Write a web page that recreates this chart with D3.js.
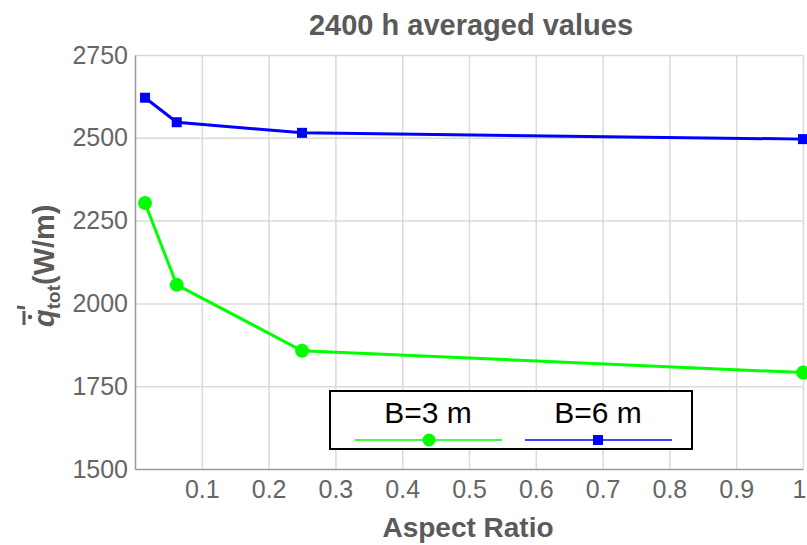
<!DOCTYPE html>
<html>
<head>
<meta charset="utf-8">
<script src="https://cdn.jsdelivr.net/npm/d3@7"></script>
<style>
  body { margin: 0; background: #fff; }
  svg { display: block; font-family: "Liberation Sans", Arial, sans-serif; }
</style>
</head>
<body>
<svg id="chart" width="807" height="545"></svg>
<script>
// ---------------- data ----------------
const aspectRatio = [0.015, 0.0625, 0.25, 1];
const qB3 = [2303, 2056, 1857, 1791];
const qB6 = [2621, 2547, 2515, 2496];
const seriesNames = ["B=3 m", "B=6 m"];
const xTicks = [0.1, 0.2, 0.3, 0.4, 0.5, 0.6, 0.7, 0.8, 0.9, 1];
const yTicks = [1500, 1750, 2000, 2250, 2500, 2750];

// ---------------- layout ----------------
const plot = { left: 135, right: 803, top: 55, bottom: 469 };
const grey = "#666666";

const svg = d3.select("#chart");

const x = d3.scaleLinear().domain([0, 1]).range([plot.left, plot.right]);
const y = d3.scaleLinear().domain([1500, 2750]).range([plot.bottom, plot.top]);

// grid lines
svg.append("g")
    .attr("transform", "translate(0," + plot.bottom + ")")
    .call(d3.axisBottom(x).tickValues(xTicks).tickSize(-(plot.bottom - plot.top)).tickFormat(""))
    .call(g => g.select(".domain").remove())
    .call(g => g.selectAll("line").attr("stroke", "#dadada").attr("stroke-width", 1.5));

svg.append("g")
    .attr("transform", "translate(" + plot.left + ",0)")
    .call(d3.axisLeft(y).tickValues(yTicks.slice(1)).tickSize(-(plot.right - plot.left)).tickFormat(""))
    .call(g => g.select(".domain").remove())
    .call(g => g.selectAll("line").attr("stroke", "#dadada").attr("stroke-width", 1.5));

// axes with labels
const xAxis = svg.append("g")
    .attr("transform", "translate(0," + plot.bottom + ")")
    .call(d3.axisBottom(x).tickValues(xTicks).tickSize(0).tickPadding(11)
        .tickFormat(d => d === 1 ? "1" : d3.format(".1f")(d)));
xAxis.select(".domain").attr("stroke", "#999").attr("stroke-width", 1.5);
xAxis.selectAll("text").attr("fill", grey).style("font-size", "25px");
// last label sits at the window edge, keep it inside
xAxis.selectAll(".tick").filter(d => d === 1).select("text")
    .attr("text-anchor", "end").attr("x", 806 - plot.right);

const yAxis = svg.append("g")
    .attr("transform", "translate(" + plot.left + ",0)")
    .call(d3.axisLeft(y).tickValues(yTicks).tickSize(0).tickPadding(7).tickFormat(d3.format("d")));
yAxis.select(".domain").attr("stroke", "#999").attr("stroke-width", 1.5);
yAxis.selectAll("text").attr("fill", grey).style("font-size", "25px");

// ---------------- series ----------------
const line = d3.line().x(d => x(d[0])).y(d => y(d[1]));
const green = "#00ff00", blue = "#0000ff";

const b3 = aspectRatio.map((a, i) => [a, qB3[i]]);
const b6 = aspectRatio.map((a, i) => [a, qB6[i]]);

svg.append("path").datum(b3).attr("d", line)
    .attr("fill", "none").attr("stroke", green).attr("stroke-width", 3);
svg.selectAll(".c3").data(b3).enter().append("circle")
    .attr("cx", d => x(d[0])).attr("cy", d => y(d[1])).attr("r", 7).attr("fill", green);

svg.append("path").datum(b6).attr("d", line)
    .attr("fill", "none").attr("stroke", blue).attr("stroke-width", 3);
svg.selectAll(".s6").data(b6).enter().append("rect")
    .attr("x", d => x(d[0]) - 5).attr("y", d => y(d[1]) - 5)
    .attr("width", 10).attr("height", 10).attr("fill", blue);

// ---------------- titles ----------------
svg.append("text")
    .attr("x", 471).attr("y", 35)
    .attr("text-anchor", "middle")
    .attr("fill", "#5a5a5a")
    .style("font-size", "29px").style("font-weight", "bold")
    .text("2400 h averaged values");

svg.append("text")
    .attr("x", 468).attr("y", 537)
    .attr("text-anchor", "middle")
    .attr("fill", "#5a5a5a")
    .style("font-size", "28px").style("font-weight", "bold")
    .text("Aspect Ratio");

// y label: q with dot, bar and prime, subscript tot
const yl = svg.append("g")
    .attr("transform", "translate(54,263) rotate(-90)")
    .attr("fill", "#5a5a5a")
    .style("font-weight", "bold");
const ylText = yl.append("text").attr("x", -64).attr("y", 0).style("font-size", "29px");
ylText.append("tspan").style("font-style", "italic").text("q");
ylText.append("tspan").attr("dy", 6).style("font-size", "19px").text("tot");
ylText.append("tspan").attr("dy", -6).text("(W/m)");
yl.append("line").attr("x1", -62).attr("x2", -48).attr("y1", -30).attr("y2", -30)
    .attr("stroke", "#5a5a5a").attr("stroke-width", 3);
yl.append("circle").attr("cx", -54).attr("cy", -24).attr("r", 2.3).attr("fill", "#5a5a5a");
yl.append("line").attr("x1", -45).attr("x2", -44).attr("y1", -29).attr("y2", -37)
    .attr("stroke", "#5a5a5a").attr("stroke-width", 3);

// ---------------- legend ----------------
const lg = svg.append("g");
lg.append("rect")
    .attr("x", 330).attr("y", 391).attr("width", 362).attr("height", 58)
    .attr("fill", "#fff").attr("stroke", "#000").attr("stroke-width", 2);

const legendItems = [
    { name: seriesNames[0], color: green, cx: 428, x1: 355, x2: 502, shape: "circle" },
    { name: seriesNames[1], color: blue, cx: 598, x1: 525, x2: 672, shape: "square" }
];
legendItems.forEach(it => {
    lg.append("text")
        .attr("x", it.cx).attr("y", 423)
        .attr("text-anchor", "middle")
        .style("font-size", "30px")
        .attr("fill", "#000")
        .text(it.name);
    lg.append("line")
        .attr("x1", it.x1).attr("x2", it.x2).attr("y1", 440).attr("y2", 440)
        .attr("stroke", it.color).attr("stroke-width", 1.5);
    if (it.shape === "circle") {
        lg.append("circle").attr("cx", it.cx + 1).attr("cy", 440).attr("r", 6.5).attr("fill", it.color);
    } else {
        lg.append("rect").attr("x", it.cx - 5).attr("y", 435).attr("width", 10).attr("height", 10).attr("fill", it.color);
    }
});
</script>
</body>
</html>
